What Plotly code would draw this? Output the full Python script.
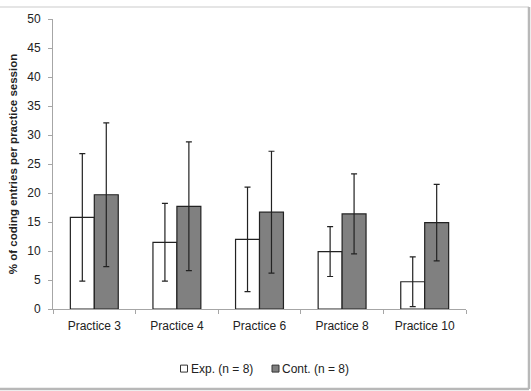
import plotly.graph_objects as go

categories = ["Practice 3", "Practice 4", "Practice 6", "Practice 8", "Practice 10"]
exp_values = [15.8, 11.5, 12.0, 9.9, 4.7]
exp_errors = [11.0, 6.7, 9.0, 4.3, 4.3]
cont_values = [19.7, 17.7, 16.7, 16.4, 14.9]
cont_errors = [12.4, 11.1, 10.5, 6.9, 6.6]
y_ticks = [0, 5, 10, 15, 20, 25, 30, 35, 40, 45, 50]
series_names = ["Exp. (n = 8)", "Cont. (n = 8)"]
series_colors = ["white", "#808080"]

FONT = "Liberation Sans, Arial, sans-serif"
EDGE = "#222222"

fig = go.Figure()
fig.add_trace(go.Bar(
    name=series_names[0], x=categories, y=exp_values, showlegend=False,
    marker=dict(color=series_colors[0], line=dict(color=EDGE, width=1.2)),
    error_y=dict(type="data", array=exp_errors, color=EDGE, thickness=1.2, width=3),
))
fig.add_trace(go.Bar(
    name=series_names[1], x=categories, y=cont_values, showlegend=False,
    marker=dict(color=series_colors[1], line=dict(color=EDGE, width=1.2)),
    error_y=dict(type="data", array=cont_errors, color=EDGE, thickness=1.2, width=3),
))

# plot area in pixels: x 53..466, y 17..309
def px(x):
    return (x - 53) / 413

def py(y):
    return (309 - y) / 292

shapes = [
    dict(type="line", xref="paper", yref="paper", x0=px(0), x1=px(529), y0=py(5), y1=py(5),
         line=dict(color="#dddddd", width=1.5)),
    dict(type="line", xref="paper", yref="paper", x0=px(529), x1=px(529), y0=py(5), y1=py(389.5),
         line=dict(color="#b8b8b8", width=2.5)),
    dict(type="line", xref="paper", yref="paper", x0=px(0), x1=px(529), y0=py(389.5), y1=py(389.5),
         line=dict(color="#b8b8b8", width=2.5)),
]
annotations = []
# custom legend (small squares + labels)
legend_x = [180.5, 272]
for name, col, lx in zip(series_names, series_colors, legend_x):
    shapes.append(dict(type="rect", xref="paper", yref="paper",
                       x0=px(lx), x1=px(lx + 7), y0=py(372.5), y1=py(365.5),
                       fillcolor=col, line=dict(color="#333333", width=1)))
    annotations.append(dict(xref="paper", yref="paper", x=px(lx + 8), y=py(369),
                            xanchor="left", yanchor="middle", showarrow=False,
                            text=name, font=dict(size=12, color="#222222")))

fig.update_layout(
    width=531, height=391,
    margin=dict(l=53, r=65, t=17, b=82),
    paper_bgcolor="white", plot_bgcolor="white",
    barmode="group", bargap=0.42, bargroupgap=0,
    font=dict(family=FONT, size=12, color="#222222"),
    shapes=shapes, annotations=annotations,
    showlegend=False,
    xaxis=dict(showline=True, linecolor="#a6a6a6", linewidth=1,
               ticks="outside", ticklen=4, tickcolor="#a6a6a6", tickson="boundaries",
               showgrid=False, tickfont=dict(size=12), ticklabelstandoff=6),
    yaxis=dict(range=[0, 50], tickvals=y_ticks, showline=True, linecolor="#a6a6a6",
               linewidth=1, ticks="outside", ticklen=4, tickcolor="#a6a6a6",
               showgrid=False, zeroline=False, tickfont=dict(size=12), ticklabelstandoff=5,
               title=dict(text="<b>% of coding entries per practice session</b>",
                          font=dict(size=11.5), standoff=7)),
)

fig.write_html("out.html")
